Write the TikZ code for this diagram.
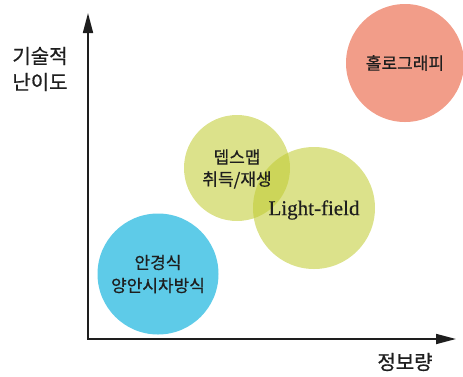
\documentclass[tikz,border=0pt]{standalone}
\usepackage{fontspec}
\setmainfont[FakeBold=0.6,AutoFakeBold=0.6]{Noto Sans CJK KR}
\newfontfamily\korean[FakeBold=0.6]{Noto Sans CJK KR}
\newfontfamily\latinserif[FakeBold=0.4]{Liberation Serif}
\usetikzlibrary{arrows.meta}
\definecolor{salmon}{RGB}{242,157,137}
\definecolor{olive}{RGB}{193,204,51}
\definecolor{skyblue}{RGB}{94,203,232}
\definecolor{ink}{RGB}{30,30,30}
\tikzset{
  bubble/.style={circle, draw=none, inner sep=0pt, text=ink, align=center, font=\korean\fontsize{17}{23}\selectfont},
  axis/.style={draw=ink, line width=1.7pt, -{Triangle[length=20pt,width=10pt]}},
  axislabel/.style={text=ink, align=center, font=\korean\fontsize{20}{26}\selectfont, inner sep=0pt}
}
\begin{document}
\begin{tikzpicture}[x=1pt,y=-1pt]
\useasboundingbox (0,0) rectangle (463,376);
% circles
\node[bubble, fill=salmon, minimum size=118pt] (holo) at (405,63) {홀로그래피};
\node[bubble, fill=olive, fill opacity=0.57, text opacity=1, minimum size=106pt] (depth) at (237,168) {};
\node[bubble, fill=olive, fill opacity=0.57, text opacity=1, minimum size=122pt] (light) at (314,208) {};
\node[text=ink, inner sep=0pt, align=center, font=\korean\fontsize{17}{22}\selectfont] (depthtxt) at (237,169) {뎁스맵\\취득/재생};
\node[text=ink, inner sep=0pt, font=\latinserif\fontsize{21}{24}\selectfont] (lighttxt) at (314,210) {Light-field};
\node[bubble, fill=skyblue, minimum size=121pt] (stereo) at (158,274) {안경식\\양안시차방식};
% axes
\coordinate (origin) at (88,339);
\coordinate (ytip) at (88,13);
\coordinate (xtip) at (456,339);
\draw[axis] (origin) -- (ytip);
\draw[axis] ([xshift=-0.85pt]origin) -- (xtip);
% labels
\node[axislabel] (ylabel) at (40,69) {기술적\\난이도};
\node[axislabel] (xlabel) at (405,362) {정보량};
\end{tikzpicture}
\end{document}
